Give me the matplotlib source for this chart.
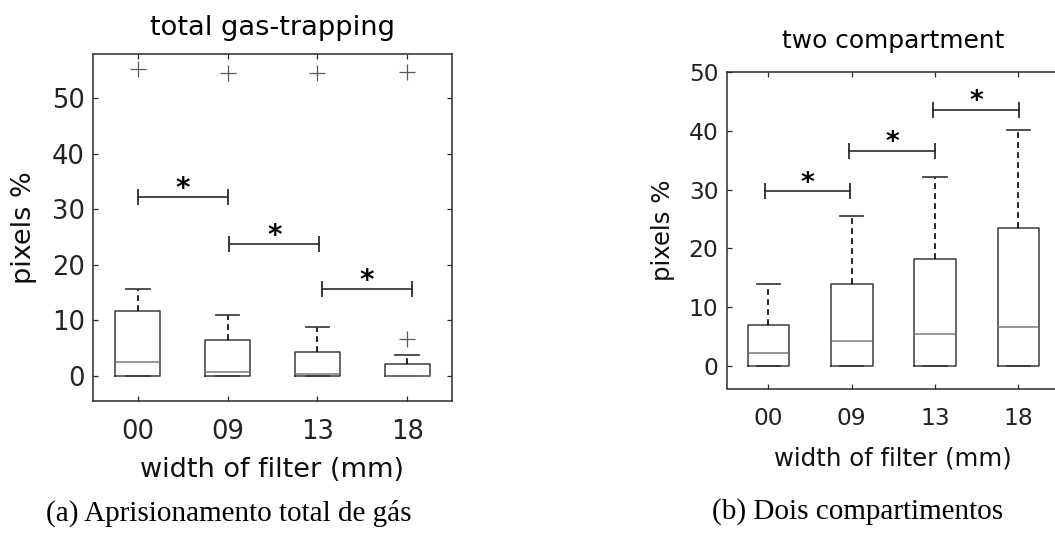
import matplotlib
matplotlib.use("Agg")
import matplotlib.pyplot as plt

# ---------------- data ----------------
categories = ['00', '09', '13', '18']

gas_q1 = [0.0, 0.0, 0.0, 0.0]
gas_med = [2.6, 0.8, 0.3, 0.0]
gas_q3 = [11.8, 6.4, 4.3, 2.2]
gas_whislo = [0.0, 0.0, 0.0, 0.0]
gas_whishi = [15.7, 10.9, 8.8, 3.8]
gas_fliers = [[55.3], [54.5], [54.5], [54.8, 6.6]]

two_q1 = [0.0, 0.0, 0.0, 0.0]
two_med = [2.3, 4.2, 5.4, 6.6]
two_q3 = [7.0, 14.0, 18.2, 23.4]
two_whislo = [0.0, 0.0, 0.0, 0.0]
two_whishi = [14.0, 25.6, 32.1, 40.1]
two_fliers = [[], [], [], []]

gas_sig_x = [(1.0, 2.0), (2.02, 3.02), (3.05, 4.05)]
gas_sig_y = [32.2, 23.7, 15.6]
two_sig_x = [(0.96, 1.98), (1.97, 3.0), (2.98, 4.01)]
two_sig_y = [29.7, 36.6, 43.6]

# ---------------- style ----------------
plt.rcParams['font.family'] = ['DejaVu Sans']
DARK = '#2b2b2b'
BOX = '#3a3a3a'
MED = '#7a7a7a'
FLI = '#5a5a5a'

W, H = 1055, 548
fig = plt.figure(figsize=(W / 100, H / 100), dpi=100)


def px_rect(x0, y0, x1, y1):
    return [x0 / W, 1 - y1 / H, (x1 - x0) / W, (y1 - y0) / H]


def make_stats(q1, med, q3, lo, hi, fl):
    stats = []
    for i in range(len(q1)):
        stats.append(dict(q1=q1[i], med=med[i], q3=q3[i], whislo=lo[i],
                          whishi=hi[i], fliers=fl[i]))
    return stats


def draw_panel(ax, stats, capw, sig_x, sig_y, ylim, title, fs_tick, fs_lab,
               fs_title, title_pad, xlab_y, star_fs):
    pos = list(range(1, len(categories) + 1))
    ax.bxp(stats, positions=pos, widths=0.5, capwidths=capw,
           boxprops=dict(color=BOX, linewidth=1.1),
           medianprops=dict(color=MED, linewidth=1.1),
           whiskerprops=dict(color='black', linewidth=1.2, linestyle=(0, (3.5, 2.5))),
           capprops=dict(color=BOX, linewidth=1.25),
           flierprops=dict(marker='+', markersize=12, markeredgecolor=FLI,
                           markeredgewidth=0.9, linestyle='none'))
    for (xa, xb), y in zip(sig_x, sig_y):
        ax.plot([xa, xb], [y, y], color=DARK, linewidth=1.2, marker='|',
                markersize=11.5, markeredgewidth=1.3)
        ax.annotate('*', xy=((xa + xb) / 2, y), xytext=(0, 0.5),
                    textcoords='offset points', ha='center', va='baseline',
                    fontsize=star_fs, fontweight='bold', color='black')
    ax.set_xlim(0.5, 4.5)
    ax.set_ylim(*ylim)
    ax.set_xticks(pos)
    ax.set_xticklabels(categories)
    ax.set_yticks([0, 10, 20, 30, 40, 50])
    ax.tick_params(direction='in', length=3.5, width=0.9, colors=DARK,
                   labelsize=fs_tick, top=True, right=True, labelcolor='#222222')
    ax.tick_params(axis='x', pad=13)
    ax.tick_params(axis='y', pad=6)
    for s in ax.spines.values():
        s.set_color(DARK)
        s.set_linewidth(1.1)
    ax.set_title(title, fontsize=fs_title, pad=title_pad, color='black')
    ax.set_xlabel('width of filter (mm)', fontsize=fs_lab, color='#111111',
                  va='center')
    ax.set_ylabel('pixels %', fontsize=fs_lab, color='#111111', va='center')
    ax.xaxis.set_label_coords(0.5, xlab_y)
    ax.yaxis.set_label_coords(-0.192, 0.5)


ax1 = fig.add_axes(px_rect(93, 54, 452, 401))
draw_panel(ax1, make_stats(gas_q1, gas_med, gas_q3, gas_whislo, gas_whishi, gas_fliers),
           0.26, gas_sig_x, gas_sig_y, (-4.5, 58.0), 'total gas-trapping',
           18.5, 19.5, 19.6, 14, -0.199, 20)

ax2 = fig.add_axes(px_rect(726.7, 72, 1060, 388.5))
draw_panel(ax2, make_stats(two_q1, two_med, two_q3, two_whislo, two_whishi, two_fliers),
           0.28, two_sig_x, two_sig_y, (-3.8, 50.0), 'two compartment',
           16.8, 17.6, 17.9, 17, -0.22, 19)

fig.text(229 / W, 1 - 513 / H, '(a) Aprisionamento total de gás',
         family='Liberation Serif', fontsize=21, ha='center', va='center',
         color='black')
fig.text(857.5 / W, 1 - 512 / H, '(b) Dois compartimentos',
         family='Liberation Serif', fontsize=21, ha='center', va='center',
         color='black')

fig.savefig('out.png', dpi=100)
